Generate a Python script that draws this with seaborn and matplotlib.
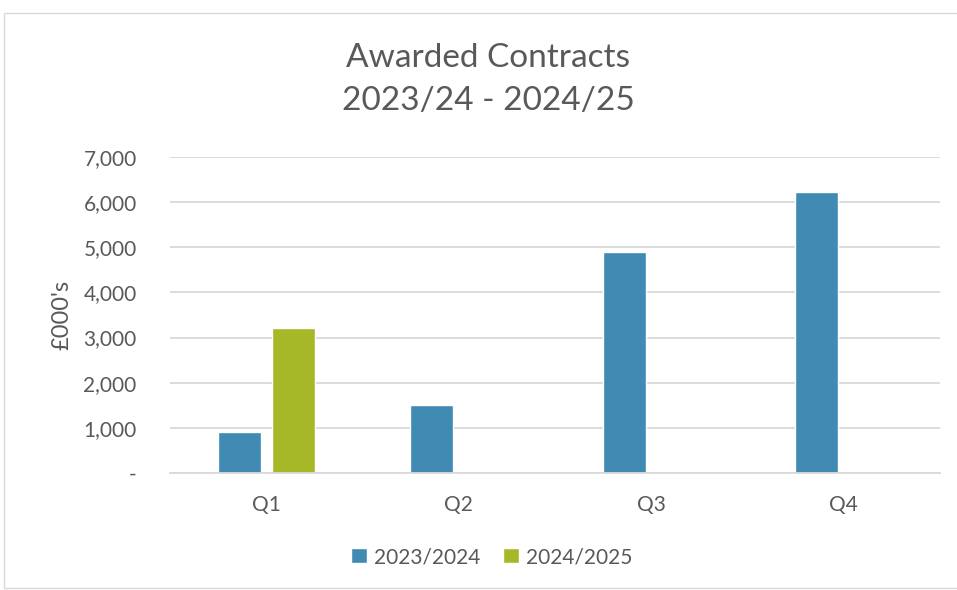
import seaborn as sns
import pandas as pd
import numpy as np
import matplotlib.pyplot as plt
from matplotlib.patches import Rectangle
from matplotlib.ticker import FuncFormatter

quarters = ["Q1", "Q2", "Q3", "Q4"]
years = ["2023/2024", "2024/2025"]
values_2324 = [915, 1515, 4900, 6235]
values_2425 = [3220, np.nan, np.nan, np.nan]

data = pd.DataFrame({
    "quarter": quarters * 2,
    "year": [years[0]] * 4 + [years[1]] * 4,
    "value": values_2324 + values_2425,
})

sns.set_theme(style="white")
plt.rcParams["font.family"] = ["Lato", "DejaVu Sans"]
txt = "#595959"

fig = plt.figure(figsize=(9.57, 5.9), dpi=100)
ax = fig.add_axes([170 / 957, 1 - 473 / 590, 770 / 957, 316 / 590])

sns.barplot(data=data, x="quarter", y="value", hue="year", order=quarters,
            hue_order=years, palette=["#418AB3", "#A6B727"], width=0.56,
            gap=0.2, saturation=1, ax=ax, legend=True)

ax.set_ylim(0, 7000)
ax.set_yticks(range(0, 7001, 1000))
ax.yaxis.set_major_formatter(FuncFormatter(lambda v, p: "-" if v == 0 else f"{v:,.0f}"))
ax.grid(axis="y", color="#d9d9d9", lw=1.3)
ax.set_axisbelow(True)
for s in ["top", "right", "left"]:
    ax.spines[s].set_visible(False)
ax.spines["bottom"].set_color("#d9d9d9")
ax.spines["bottom"].set_linewidth(1.3)
ax.tick_params(axis="both", length=0, labelsize=15, colors=txt)
ax.tick_params(axis="x", pad=16)
ax.tick_params(axis="y", pad=24)
ax.set_xlabel("")
ax.set_ylabel("£000's", fontsize=17, color=txt, labelpad=8)

fig.text(0.51, 1 - 58 / 590, "Awarded Contracts", ha="center", va="center",
         fontsize=24, color=txt)
fig.text(0.51, 1 - 101 / 590, "2023/24 - 2024/25", ha="center", va="center",
         fontsize=24, color=txt)

h, l = ax.get_legend_handles_labels()
ax.legend(h, l, loc="center", bbox_to_anchor=(0.514, 1 - 557 / 590),
          bbox_transform=fig.transFigure, ncol=2, frameon=False, fontsize=15,
          labelcolor=txt, handlelength=0.75, handleheight=0.75, handletextpad=0.35,
          columnspacing=1.1)

fig.patches.append(Rectangle((4 / 957, 2 / 590), 960 / 957, 575 / 590,
                             transform=fig.transFigure, fill=False,
                             edgecolor="#d9d9d9", lw=1))

plt.savefig("out.png")
